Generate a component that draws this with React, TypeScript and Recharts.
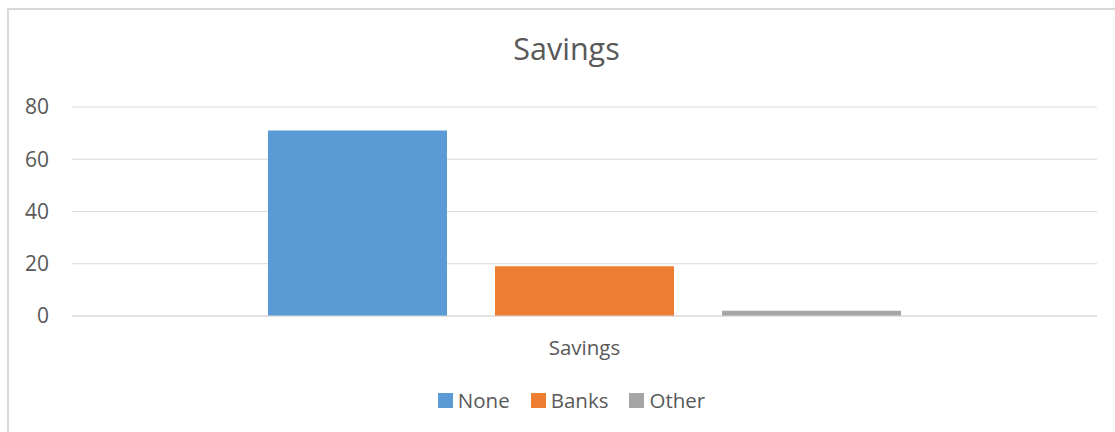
import { BarChart, Bar, XAxis, YAxis, CartesianGrid, Legend } from "recharts";

const categories = ["Savings"];
const noneValues = [71];
const banksValues = [19];
const otherValues = [2];
const yTicks = [0, 20, 40, 60, 80];

const series = [
  { key: "None", values: noneValues, color: "#5B9BD5" },
  { key: "Banks", values: banksValues, color: "#ED7D31" },
  { key: "Other", values: otherValues, color: "#A5A5A5" },
];

const data = categories.map((name, i) => {
  const row: Record<string, string | number> = { name };
  series.forEach((s) => {
    row[s.key] = s.values[i];
  });
  return row;
});

const textColor = "#595959";
const gridColor = "#D9D9D9";
const font = '"Open Sans", sans-serif';

// legend keeps the series order (recharts would sort it by name)
function LegendContent() {
  return (
    <div
      style={{
        display: "flex",
        justifyContent: "center",
        position: "relative",
        left: 23,
        fontFamily: font,
        fontSize: 20.5,
        color: textColor,
        lineHeight: "24px",
      }}
    >
      {series.map((s, i) => (
        <div
          key={s.key}
          style={{ display: "flex", alignItems: "center", marginLeft: i === 0 ? 0 : 21 }}
        >
          <span style={{ width: 15, height: 15, background: s.color, marginRight: 5, display: "inline-block" }} />
          <span>{s.key}</span>
        </div>
      ))}
    </div>
  );
}

export default function App() {
  return (
    <div
      style={{
        position: "absolute",
        left: 0,
        top: 0,
        width: 1115,
        height: 432,
        overflow: "hidden",
        background: "#fff",
        fontFamily: font,
      }}
    >
      <div
        style={{
          position: "absolute",
          left: 7,
          top: 8,
          width: 1200,
          height: 500,
          border: `2px solid ${gridColor}`,
          boxSizing: "border-box",
        }}
      />
      <div
        style={{
          position: "absolute",
          left: 0,
          width: 1133,
          top: 33,
          textAlign: "center",
          fontSize: 30.5,
          lineHeight: "30px",
          color: textColor,
        }}
      >
        Savings
      </div>
      <div style={{ position: "absolute", left: 0, top: 0 }}>
        <BarChart
          width={1115}
          height={432}
          data={data}
          margin={{ top: 107, right: 18, bottom: 0, left: 0 }}
          barSize={179}
          barGap={48}
        >
          <CartesianGrid vertical={false} stroke={gridColor} />
          <XAxis
            dataKey="name"
            height={72}
            axisLine={{ stroke: gridColor }}
            tickLine={false}
            tickSize={6}
            tickMargin={18}
            tick={{ fill: textColor, fontSize: 20.5, fontFamily: font }}
          />
          <YAxis
            domain={[0, 80]}
            ticks={yTicks}
            width={72}
            axisLine={false}
            tickLine={false}
            tickSize={6}
            tickMargin={17}
            tick={{ fill: textColor, fontSize: 21, fontFamily: font }}
          />
          <Legend verticalAlign="bottom" height={44} content={<LegendContent />} />
          {series.map((s) => (
            <Bar key={s.key} dataKey={s.key} fill={s.color} isAnimationActive={false} />
          ))}
        </BarChart>
      </div>
    </div>
  );
}
